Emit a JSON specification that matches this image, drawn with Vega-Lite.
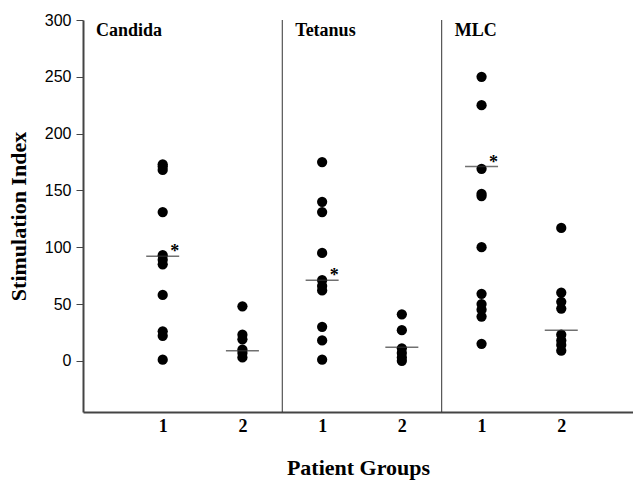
{
  "$schema": "https://vega.github.io/schema/vega-lite/v6.json",
  "width": 550,
  "height": 392,
  "autosize": {"type": "none"},
  "padding": {"left": 83, "top": 20, "right": 0, "bottom": 70},
  "background": "white",
  "config": {"view": {"stroke": null}},
  "datasets": {
    "points": [
      {"panel": "Candida", "group": 1, "pos": 1, "value": 173},
      {"panel": "Candida", "group": 1, "pos": 1, "value": 171},
      {"panel": "Candida", "group": 1, "pos": 1, "value": 168},
      {"panel": "Candida", "group": 1, "pos": 1, "value": 131},
      {"panel": "Candida", "group": 1, "pos": 1, "value": 93},
      {"panel": "Candida", "group": 1, "pos": 1, "value": 89},
      {"panel": "Candida", "group": 1, "pos": 1, "value": 85},
      {"panel": "Candida", "group": 1, "pos": 1, "value": 58},
      {"panel": "Candida", "group": 1, "pos": 1, "value": 26},
      {"panel": "Candida", "group": 1, "pos": 1, "value": 22},
      {"panel": "Candida", "group": 1, "pos": 1, "value": 1},
      {"panel": "Candida", "group": 2, "pos": 2, "value": 48},
      {"panel": "Candida", "group": 2, "pos": 2, "value": 23},
      {"panel": "Candida", "group": 2, "pos": 2, "value": 19},
      {"panel": "Candida", "group": 2, "pos": 2, "value": 10},
      {"panel": "Candida", "group": 2, "pos": 2, "value": 7},
      {"panel": "Candida", "group": 2, "pos": 2, "value": 3},
      {"panel": "Tetanus", "group": 1, "pos": 3, "value": 175},
      {"panel": "Tetanus", "group": 1, "pos": 3, "value": 140},
      {"panel": "Tetanus", "group": 1, "pos": 3, "value": 131},
      {"panel": "Tetanus", "group": 1, "pos": 3, "value": 95},
      {"panel": "Tetanus", "group": 1, "pos": 3, "value": 71},
      {"panel": "Tetanus", "group": 1, "pos": 3, "value": 66},
      {"panel": "Tetanus", "group": 1, "pos": 3, "value": 62},
      {"panel": "Tetanus", "group": 1, "pos": 3, "value": 30},
      {"panel": "Tetanus", "group": 1, "pos": 3, "value": 18},
      {"panel": "Tetanus", "group": 1, "pos": 3, "value": 1},
      {"panel": "Tetanus", "group": 2, "pos": 4, "value": 41},
      {"panel": "Tetanus", "group": 2, "pos": 4, "value": 27},
      {"panel": "Tetanus", "group": 2, "pos": 4, "value": 11},
      {"panel": "Tetanus", "group": 2, "pos": 4, "value": 7},
      {"panel": "Tetanus", "group": 2, "pos": 4, "value": 3},
      {"panel": "Tetanus", "group": 2, "pos": 4, "value": 0},
      {"panel": "MLC", "group": 1, "pos": 5, "value": 250},
      {"panel": "MLC", "group": 1, "pos": 5, "value": 225},
      {"panel": "MLC", "group": 1, "pos": 5, "value": 169},
      {"panel": "MLC", "group": 1, "pos": 5, "value": 147},
      {"panel": "MLC", "group": 1, "pos": 5, "value": 145},
      {"panel": "MLC", "group": 1, "pos": 5, "value": 100},
      {"panel": "MLC", "group": 1, "pos": 5, "value": 59},
      {"panel": "MLC", "group": 1, "pos": 5, "value": 50},
      {"panel": "MLC", "group": 1, "pos": 5, "value": 45},
      {"panel": "MLC", "group": 1, "pos": 5, "value": 39},
      {"panel": "MLC", "group": 1, "pos": 5, "value": 15},
      {"panel": "MLC", "group": 2, "pos": 6, "value": 117},
      {"panel": "MLC", "group": 2, "pos": 6, "value": 60},
      {"panel": "MLC", "group": 2, "pos": 6, "value": 52},
      {"panel": "MLC", "group": 2, "pos": 6, "value": 46},
      {"panel": "MLC", "group": 2, "pos": 6, "value": 23},
      {"panel": "MLC", "group": 2, "pos": 6, "value": 18},
      {"panel": "MLC", "group": 2, "pos": 6, "value": 14},
      {"panel": "MLC", "group": 2, "pos": 6, "value": 9}
    ],
    "centers": [
      {"panel": "Candida", "group": 1, "pos": 1, "center": 92, "sig": true},
      {"panel": "Candida", "group": 2, "pos": 2, "center": 9, "sig": false},
      {"panel": "Tetanus", "group": 1, "pos": 3, "center": 71, "sig": true},
      {"panel": "Tetanus", "group": 2, "pos": 4, "center": 12, "sig": false},
      {"panel": "MLC", "group": 1, "pos": 5, "center": 171, "sig": true},
      {"panel": "MLC", "group": 2, "pos": 6, "center": 27, "sig": false}
    ],
    "panels": [
      {"panel": "Candida", "start": 0, "end": 2.5},
      {"panel": "Tetanus", "start": 2.5, "end": 4.5},
      {"panel": "MLC", "start": 4.5, "end": 6.9}
    ]
  },
  "layer": [
    {
      "data": {"name": "panels"},
      "transform": [{"filter": "datum.start > 0"}],
      "mark": {"type": "rule", "color": "#333333", "strokeWidth": 1},
      "encoding": {
        "x": {"field": "start", "type": "quantitative", "scale": {"domain": [0, 6.9], "nice": false, "zero": false},
          "axis": {
            "values": [1, 2, 3, 4, 5, 6],
            "labelExpr": "datum.value % 2 == 1 ? '1' : '2'",
            "grid": false, "ticks": false,
            "domainColor": "#444444", "domainWidth": 2,
            "labelFont": "Liberation Serif", "labelFontWeight": "bold", "labelFontSize": 18,
            "labelColor": "black", "labelPadding": 5,
            "title": "Patient Groups",
            "titleFont": "Liberation Serif", "titleFontWeight": "bold", "titleFontSize": 22,
            "titleColor": "black", "titlePadding": 22
          }
        }
      }
    },
    {
      "data": {"name": "points"},
      "mark": {"type": "circle", "color": "black", "opacity": 1, "size": 105},
      "encoding": {
        "x": {"field": "pos", "type": "quantitative"},
        "y": {"field": "value", "type": "quantitative", "scale": {"domain": [-45, 300], "nice": false, "zero": false},
          "axis": {
            "values": [0, 50, 100, 150, 200, 250, 300],
            "grid": false, "tickSize": 7, "tickColor": "#444444",
            "domainColor": "#444444", "domainWidth": 2,
            "labelFont": "Liberation Sans", "labelFontSize": 16, "labelColor": "black",
            "labelPadding": 5,
            "title": "Stimulation Index",
            "titleFont": "Liberation Serif", "titleFontWeight": "bold", "titleFontSize": 22,
            "titleColor": "black", "titlePadding": 14
          }
        }
      }
    },
    {
      "data": {"name": "centers"},
      "mark": {"type": "tick", "orient": "horizontal", "size": 33, "thickness": 1.5, "color": "#333333"},
      "encoding": {
        "x": {"field": "pos", "type": "quantitative"},
        "y": {"field": "center", "type": "quantitative"}
      }
    },
    {
      "data": {"name": "centers"},
      "transform": [{"filter": "datum.sig"}],
      "mark": {"type": "text", "text": "*", "font": "Liberation Serif", "fontWeight": "bold", "fontSize": 18, "dx": 12, "dy": -4, "baseline": "middle", "color": "black"},
      "encoding": {
        "x": {"field": "pos", "type": "quantitative"},
        "y": {"field": "center", "type": "quantitative"}
      }
    },
    {
      "data": {"name": "panels"},
      "mark": {"type": "text", "font": "Liberation Serif", "fontWeight": "bold", "fontSize": 18, "align": "left", "baseline": "alphabetic", "dx": 13, "dy": 16, "color": "black"},
      "encoding": {
        "x": {"field": "start", "type": "quantitative"},
        "y": {"datum": 300, "type": "quantitative"},
        "text": {"field": "panel"}
      }
    }
  ]
}
